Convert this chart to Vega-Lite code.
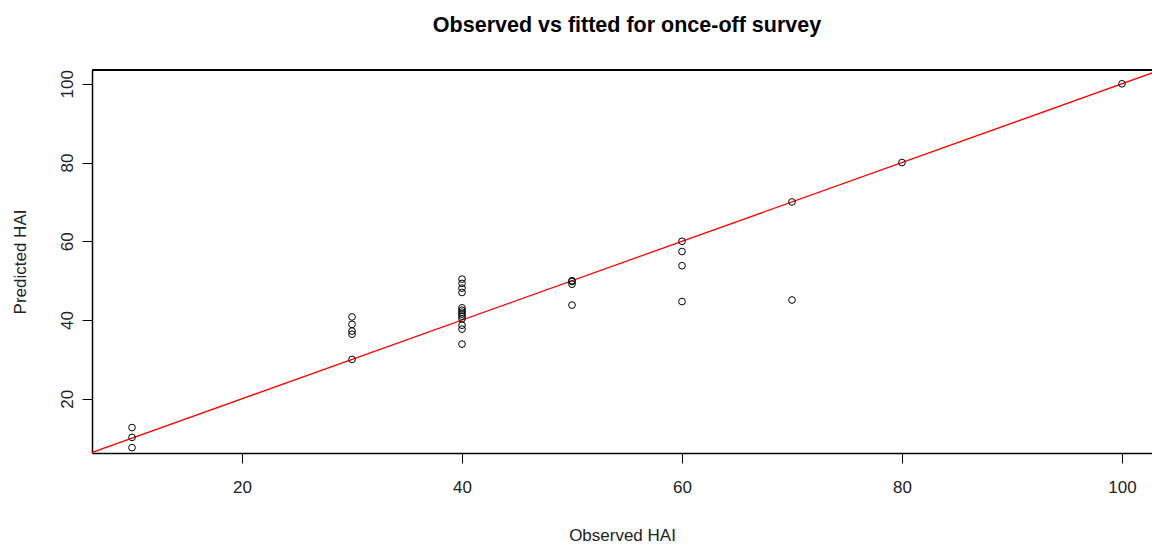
{
  "$schema": "https://vega.github.io/schema/vega-lite/v6.json",
  "autosize": "none",
  "width": 1060,
  "height": 383,
  "padding": {"left": 92, "top": 70, "right": 0, "bottom": 92},
  "background": "white",
  "title": {
    "text": "Observed vs fitted for once-off survey",
    "font": "Liberation Sans",
    "fontSize": 21.5,
    "fontWeight": "bold",
    "color": "#000000",
    "anchor": "middle",
    "frame": "group",
    "baseline": "alphabetic",
    "offset": 16,
    "dx": 5
  },
  "config": {
    "view": {"stroke": null},
    "axis": {
      "labelFont": "Liberation Sans",
      "titleFont": "Liberation Sans",
      "labelFontSize": 17,
      "titleFontSize": 17,
      "titleFontWeight": "normal",
      "labelColor": "#222222",
      "titleColor": "#222222",
      "tickColor": "#000000",
      "domainColor": "#000000",
      "tickSize": 10,
      "grid": false
    }
  },
  "datasets": {
    "points": [
      {"observed": 10, "predicted": 12.7},
      {"observed": 10, "predicted": 10.2},
      {"observed": 10, "predicted": 7.6},
      {"observed": 30, "predicted": 40.8},
      {"observed": 30, "predicted": 38.9},
      {"observed": 30, "predicted": 37.2},
      {"observed": 30, "predicted": 36.4},
      {"observed": 30, "predicted": 30.0},
      {"observed": 40, "predicted": 50.4},
      {"observed": 40, "predicted": 49.3},
      {"observed": 40, "predicted": 48.1},
      {"observed": 40, "predicted": 47.0},
      {"observed": 40, "predicted": 43.1},
      {"observed": 40, "predicted": 42.5},
      {"observed": 40, "predicted": 42.0},
      {"observed": 40, "predicted": 41.5},
      {"observed": 40, "predicted": 41.0},
      {"observed": 40, "predicted": 40.3},
      {"observed": 40, "predicted": 38.7},
      {"observed": 40, "predicted": 37.7},
      {"observed": 40, "predicted": 33.9},
      {"observed": 50, "predicted": 50.0},
      {"observed": 50, "predicted": 49.8},
      {"observed": 50, "predicted": 49.1},
      {"observed": 50, "predicted": 43.8},
      {"observed": 60, "predicted": 60.0},
      {"observed": 60, "predicted": 57.4},
      {"observed": 60, "predicted": 53.8},
      {"observed": 60, "predicted": 44.7},
      {"observed": 70, "predicted": 70.0},
      {"observed": 70, "predicted": 45.1},
      {"observed": 80, "predicted": 80.0},
      {"observed": 100, "predicted": 100.0}
    ],
    "identity": [
      {"observed": 0, "predicted": 0},
      {"observed": 110, "predicted": 110}
    ]
  },
  "layer": [
    {
      "data": {"name": "identity"},
      "mark": {"type": "line", "color": "#ff0000", "strokeWidth": 1.3, "clip": true},
      "encoding": {
        "x": {
          "field": "observed",
          "type": "quantitative",
          "scale": {"domain": [6.36, 102.73], "nice": false, "zero": false},
          "axis": {
            "title": "Observed HAI",
            "values": [20, 40, 60, 80, 100],
            "labelPadding": 16,
            "labelBaseline": "top",
            "titleY": 87,
            "titleBaseline": "alphabetic",
            "domainWidth": 1.5
          }
        },
        "y": {
          "field": "predicted",
          "type": "quantitative",
          "scale": {"domain": [6.24, 103.5], "nice": false, "zero": false},
          "axis": {
            "title": "Predicted HAI",
            "values": [20, 40, 60, 80, 100],
            "labelAngle": -90,
            "labelAlign": "center",
            "labelBaseline": "bottom",
            "labelPadding": 6,
            "titleX": -67,
            "titleBaseline": "alphabetic",
            "titleAngle": -90,
            "domainWidth": 1.5
          }
        }
      }
    },
    {
      "data": {"name": "points"},
      "mark": {"type": "point", "shape": "circle", "filled": false, "color": "#000000", "strokeWidth": 1, "size": 45, "opacity": 1},
      "encoding": {
        "x": {"field": "observed", "type": "quantitative"},
        "y": {"field": "predicted", "type": "quantitative"}
      }
    },
    {
      "data": {"name": "points"},
      "mark": {"type": "rule", "color": "#000000", "strokeWidth": 1.5},
      "encoding": {
        "y": {"datum": 103.5, "type": "quantitative"}
      }
    }
  ]
}
